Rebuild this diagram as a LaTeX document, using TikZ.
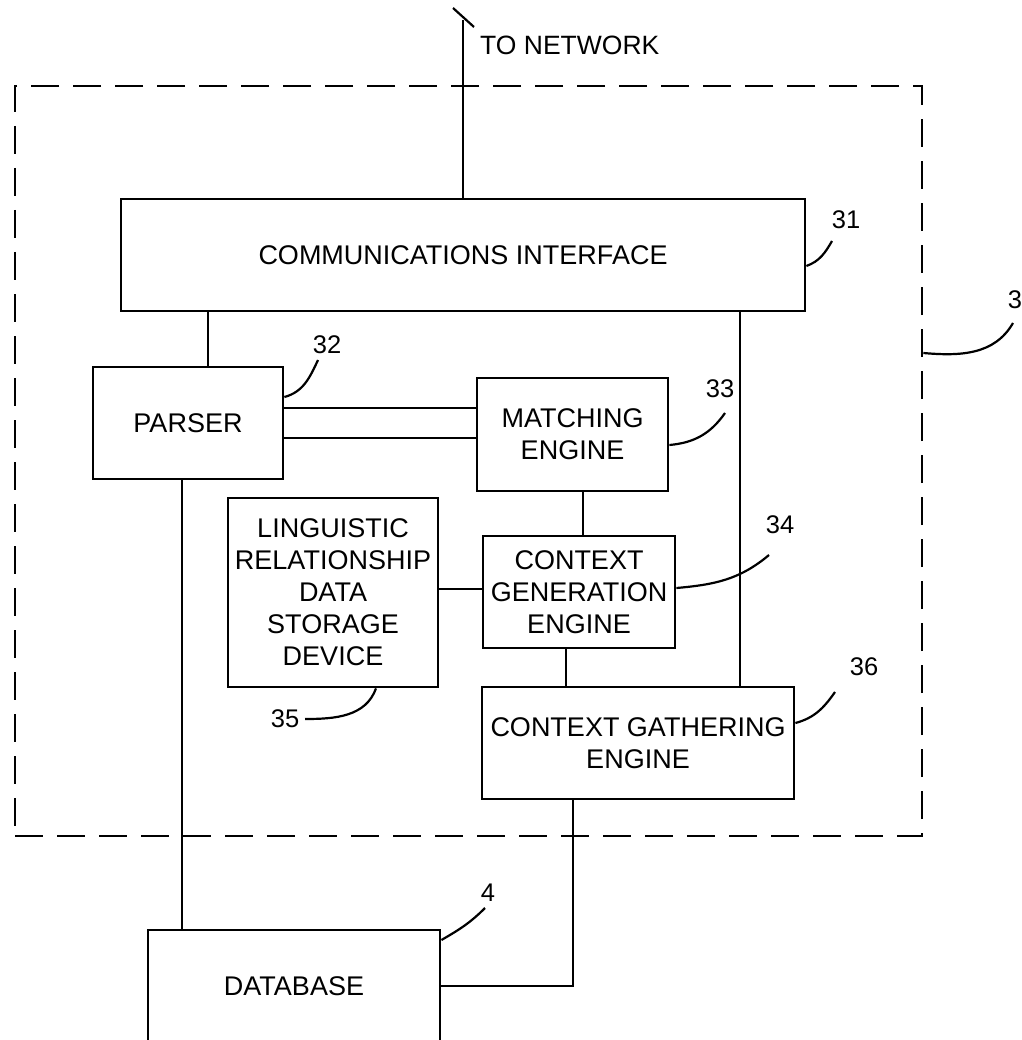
\documentclass[tikz,border=0pt]{standalone}
\usepackage{fontspec}
\setmainfont{Liberation Sans}
\usepackage{tikz}

\begin{document}
\begin{tikzpicture}[x=1pt, y=1pt,
  box/.style={draw, line width=2.8pt, inner sep=0pt, align=center, font=\fontsize{27}{32}\selectfont},
  link/.style={line width=2.2pt},
  lead/.style={line width=2.2pt},
  ref/.style={inner sep=0pt, font=\fontsize{25.5}{30}\selectfont}]
  \useasboundingbox (0,0) rectangle (1021,-1040);
  \clip (0,0) rectangle (1021,-1040);

  \node (isys) [draw, line width=2.6pt, dash pattern=on 28pt off 14pt, inner sep=0pt, minimum width=907pt, minimum height=750pt] at (468.5,-461) {};

  \node (icomm) [box, minimum width=684pt, minimum height=112pt] at (463,-255) {COMMUNICATIONS INTERFACE};
  \node (iparser) [box, minimum width=190pt, minimum height=112pt] at (188,-423) {PARSER};
  \node (imatch) [box, minimum width=191pt, minimum height=113pt] at (572.5,-434.5) {MATCHING\\ENGINE};
  \node (iling) [box, minimum width=210pt, minimum height=189pt] at (333,-592.5) {LINGUISTIC\\RELATIONSHIP\\DATA\\STORAGE\\DEVICE};
  \node (icgen) [box, minimum width=192pt, minimum height=112pt] at (579,-592) {CONTEXT\\GENERATION\\ENGINE};
  \node (igather) [box, minimum width=312pt, minimum height=112pt] at (638,-743) {CONTEXT GATHERING\\ENGINE};
  \node (idb) [box, minimum width=292pt, minimum height=112pt] at (294,-986) {DATABASE};

  \coordinate (inet) at (463,-20);
  \node (ltonet) [anchor=west, inner sep=0pt, font=\fontsize{26.5}{32}\selectfont] at (480,-45) {TO NETWORK};

  \node (l31) [ref] at (846,-220) {31};
  \node (l32) [ref] at (327,-345) {32};
  \node (l33) [ref] at (720,-389) {33};
  \node (l34) [ref] at (780,-525) {34};
  \node (l35) [ref] at (285,-719) {35};
  \node (l36) [ref] at (864,-667) {36};
  \node (l3) [ref] at (1015,-300) {3};
  \node (l4) [ref] at (488,-893) {4};

  \draw [link] (icomm.north) -- (inet);
  \draw [link] ([shift={(-10pt,12pt)}]inet) -- ([shift={(11pt,-7pt)}]inet);
  \draw [link] ([xshift=20pt]iparser.north) -- ([xshift=20pt]iparser.north |- icomm.south);
  \draw [link] ([xshift=102pt]igather.north) -- ([xshift=102pt]igather.north |- icomm.south);
  \draw [link] ([yshift=15pt]iparser.east) -- ([yshift=15pt]iparser.east -| imatch.west);
  \draw [link] ([yshift=-15pt]iparser.east) -- ([yshift=-15pt]iparser.east -| imatch.west);
  \draw [link] ([xshift=10.5pt]imatch.south) -- ([xshift=10.5pt]imatch.south |- icgen.north);
  \draw [link] ([yshift=3.5pt]iling.east) -- ([yshift=3.5pt]iling.east -| icgen.west);
  \draw [link] ([xshift=-13pt]icgen.south) -- ([xshift=-13pt]icgen.south |- igather.north);
  \draw [link] ([xshift=-6pt]iparser.south) -- ([xshift=-6pt]iparser.south |- idb.north);
  \draw [link] ([xshift=-65pt]igather.south) |- (idb.east);

  \draw [lead] ([yshift=-11pt]icomm.east) to[out=20, in=-120] ([shift={(-14pt,-21pt)}]l31.center);
  \draw [lead] ([yshift=26pt]iparser.east) to[out=15, in=-115] ([shift={(-9pt,-15pt)}]l32.center);
  \draw [lead] ([yshift=-10.5pt]imatch.east) to[out=5, in=-125] ([shift={(5pt,-24pt)}]l33.center);
  \draw [lead] ([yshift=4pt]icgen.east) to[out=5, in=-140] ([shift={(-11pt,-30pt)}]l34.center);
  \draw [lead] ([xshift=43pt]iling.south) to[out=-110, in=0] ([xshift=20pt]l35.center);
  \draw [lead] ([yshift=20pt]igather.east) to[out=15, in=-125] ([shift={(-29pt,-25pt)}]l36.center);
  \draw [lead] ([yshift=108pt]isys.east) to[out=-5, in=-120] ([shift={(-2pt,-23pt)}]l3.center);
  \draw [lead] ([yshift=46pt]idb.east) to[out=30, in=-135] ([shift={(-3pt,-15pt)}]l4.center);
\end{tikzpicture}
\end{document}
